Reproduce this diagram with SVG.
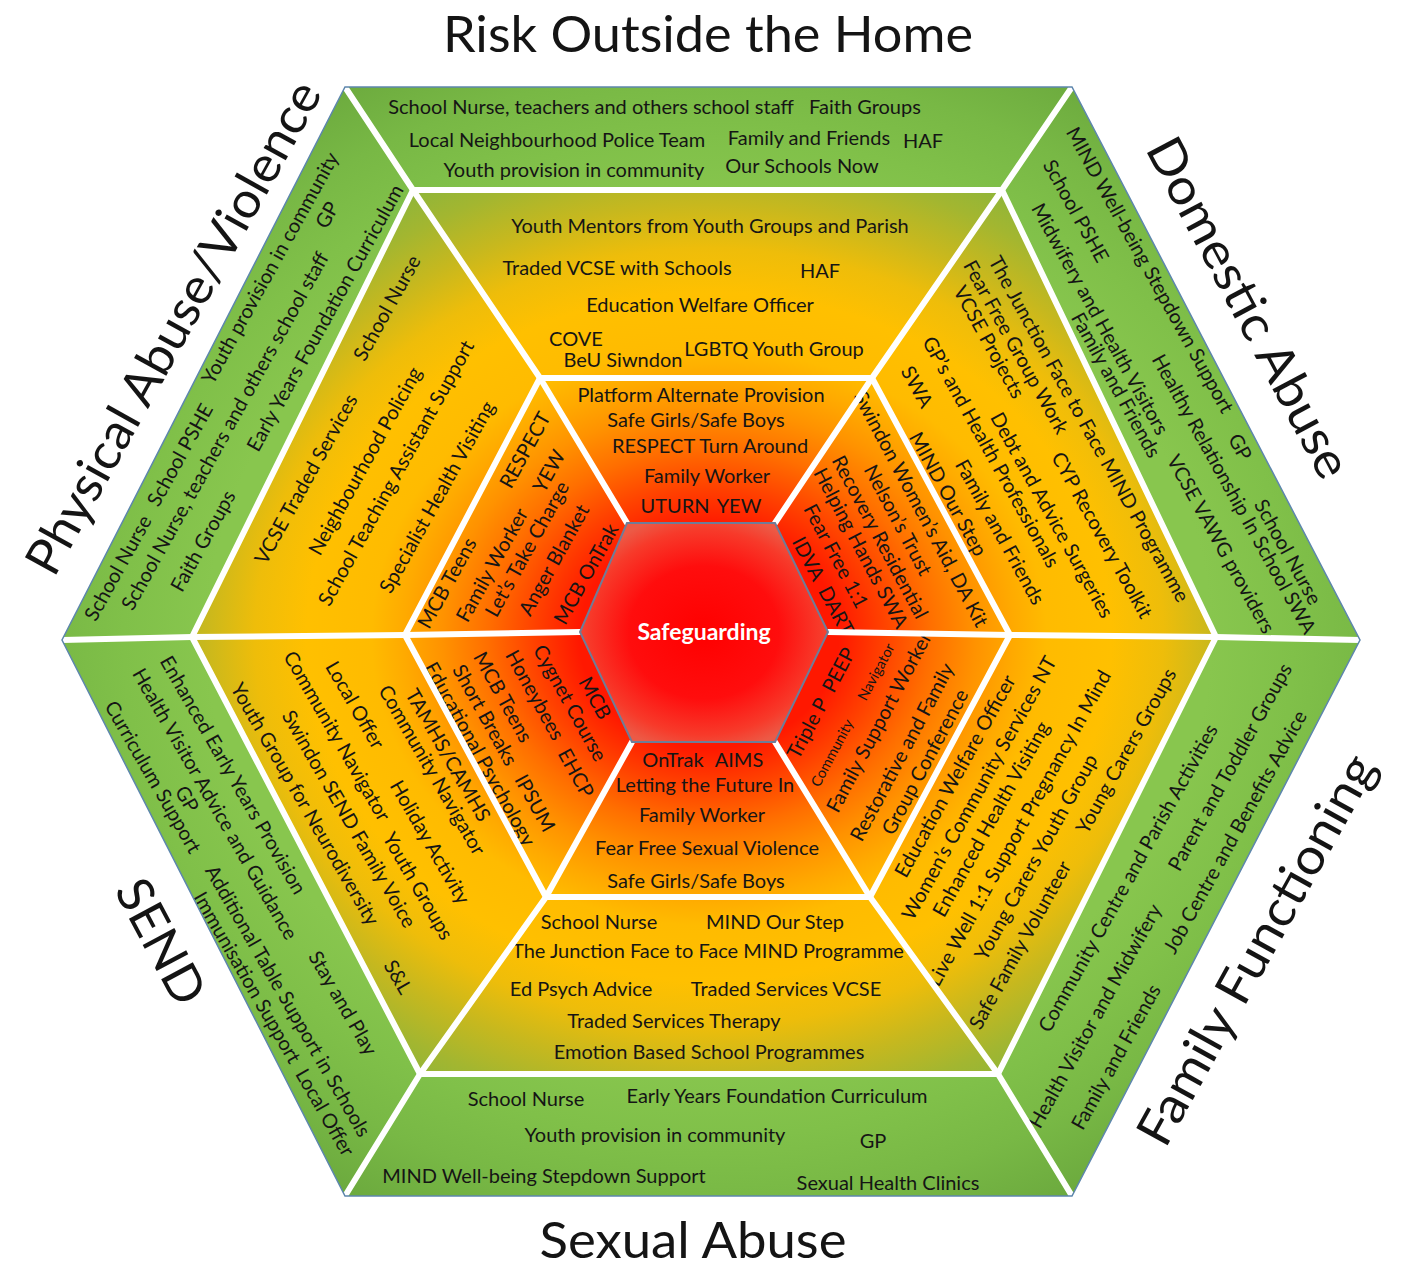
<svg xmlns="http://www.w3.org/2000/svg" width="1401" height="1267" viewBox="0 0 1401 1267">
<defs>
<radialGradient id="gIn" gradientUnits="userSpaceOnUse" cx="709" cy="637" r="649" gradientTransform="translate(709 637) scale(1 0.855) translate(-709 -637)">
<stop offset="0.20" stop-color="#ff1800"/>
<stop offset="0.27" stop-color="#ff4200"/>
<stop offset="0.34" stop-color="#ff6e00"/>
<stop offset="0.41" stop-color="#ff9200"/>
<stop offset="0.47" stop-color="#ffaa00"/>
<stop offset="0.52" stop-color="#ffbb00"/>
<stop offset="0.62" stop-color="#ffc000"/>
<stop offset="0.70" stop-color="#eebd0a"/>
<stop offset="0.78" stop-color="#c7b81e"/>
<stop offset="0.86" stop-color="#a3b630"/>
<stop offset="0.95" stop-color="#86b53e"/>
<stop offset="1" stop-color="#7ab545"/>
</radialGradient>
<radialGradient id="gOut" gradientUnits="userSpaceOnUse" cx="709" cy="637" r="760" gradientTransform="translate(709 637) scale(1 0.855) translate(-709 -637)">
<stop offset="0.66" stop-color="#88c64e"/>
<stop offset="0.77" stop-color="#80c049"/>
<stop offset="0.87" stop-color="#78b845"/>
<stop offset="0.98" stop-color="#6caa3e"/>
</radialGradient>
<radialGradient id="gC" cx="0.5" cy="0.5" r="0.55">
<stop offset="0" stop-color="#ff0000"/>
<stop offset="0.55" stop-color="#ff0d0d"/>
<stop offset="0.85" stop-color="#f73a2a"/>
<stop offset="1" stop-color="#ec5a46"/>
</radialGradient>
<style>
.t{font-family:Lato,"Open Sans","Liberation Sans",sans-serif;font-size:20px;fill:#151515;text-anchor:middle}
.s{font-size:14.5px}
.h{font-family:Lato,"Open Sans","Liberation Sans",sans-serif;font-size:50px;fill:#141414;text-anchor:middle}
.sg{font-family:Lato,"Open Sans","Liberation Sans",sans-serif;font-size:23px;font-weight:bold;fill:#ffffff;text-anchor:middle}
.sep{fill:none;stroke:#ffffff;stroke-width:6;stroke-linejoin:round;stroke-linecap:round}
.out{fill:url(#gOut)}
.in{fill:url(#gIn)}
</style>
</defs>
<rect width="1401" height="1267" fill="#ffffff"/>

<g id="titles">
<text class="h" x="708" y="52" textLength="530" lengthAdjust="spacingAndGlyphs">Risk Outside the Home</text>
<text class="h" x="693" y="1258" textLength="307" lengthAdjust="spacingAndGlyphs">Sexual Abuse</text>
<text class="h" transform="translate(174 328) rotate(-61)" dy="0.33em" textLength="555" lengthAdjust="spacingAndGlyphs">Physical Abuse/Violence</text>
<text class="h" transform="translate(1248 308) rotate(62)" dy="0.33em" textLength="378" lengthAdjust="spacingAndGlyphs">Domestic Abuse</text>
<text class="h" transform="translate(160 942) rotate(62)" dy="0.33em" textLength="135" lengthAdjust="spacingAndGlyphs">SEND</text>
<text class="h" transform="translate(1257 950) rotate(-61)" dy="0.33em" textLength="438" lengthAdjust="spacingAndGlyphs">Family Functioning</text>
</g>

<!-- outer green ring -->
<g id="risk-outer">
<polygon class="out" points="345,87 1072,87 1002,190 413,190"/>
<text class="t" x="591" y="107" dy="0.35em">School Nurse, teachers and others school staff</text>
<text class="t" x="865" y="107" dy="0.35em">Faith Groups</text>
<text class="t" x="557" y="140" dy="0.35em">Local Neighbourhood Police Team</text>
<text class="t" x="809" y="138" dy="0.35em">Family and Friends</text>
<text class="t" x="923" y="141" dy="0.35em">HAF</text>
<text class="t" x="574" y="170" dy="0.35em">Youth provision in community</text>
<text class="t" x="802" y="166" dy="0.35em">Our Schools Now</text>
</g>
<g id="domestic-outer">
<polygon class="out" points="1072,87 1360,640 1216,637 1002,190"/>
<text class="t" transform="translate(1150 270) rotate(61)" dy="0.35em">MIND Well-being Stepdown Support</text>
<text class="t" transform="translate(1240 447) rotate(61)" dy="0.35em">GP</text>
<text class="t" transform="translate(1288 552) rotate(61)" dy="0.35em">School Nurse</text>
<text class="t" transform="translate(1076 211) rotate(61)" dy="0.35em">School PSHE</text>
<text class="t" transform="translate(1234 494) rotate(61)" dy="0.35em">Healthy Relationship In School SWA</text>
<text class="t" transform="translate(1100 319) rotate(61)" dy="0.35em">Midwifery and Health Visitors</text>
<text class="t" transform="translate(1221 544) rotate(61)" dy="0.35em">VCSE VAWG providers</text>
<text class="t" transform="translate(1116 385) rotate(61)" dy="0.35em">Family and Friends</text>
</g>
<g id="family-outer">
<polygon class="out" points="1360,640 1072,1196 998,1074 1216,637"/>
<text class="t" transform="translate(1128 878) rotate(-61)" dy="0.35em">Community Centre and Parish Activities</text>
<text class="t" transform="translate(1230 767) rotate(-61)" dy="0.35em">Parent and Toddler Groups</text>
<text class="t" transform="translate(1095 1016) rotate(-61)" dy="0.35em">Health Visitor and Midwifery</text>
<text class="t" transform="translate(1235 832) rotate(-61)" dy="0.35em">Job Centre and Benefits Advice</text>
<text class="t" transform="translate(1116 1057) rotate(-61)" dy="0.35em">Family and Friends</text>
</g>
<g id="sexual-outer">
<polygon class="out" points="1072,1196 345,1196 420,1074 998,1074"/>
<text class="t" x="526" y="1099" dy="0.35em">School Nurse</text>
<text class="t" x="777" y="1096" dy="0.35em">Early Years Foundation Curriculum</text>
<text class="t" x="655" y="1135" dy="0.35em">Youth provision in community</text>
<text class="t" x="873" y="1141" dy="0.35em">GP</text>
<text class="t" x="544" y="1176" dy="0.35em">MIND Well-being Stepdown Support</text>
<text class="t" x="888" y="1183" dy="0.35em">Sexual Health Clinics</text>
</g>
<g id="send-outer">
<polygon class="out" points="345,1196 62,640 192,637 420,1074"/>
<text class="t" transform="translate(233 775) rotate(60)" dy="0.35em">Enhanced Early Years Provision</text>
<text class="t" transform="translate(215 804) rotate(60)" dy="0.35em">Health Visitor Advice and Guidance</text>
<text class="t" transform="translate(153 777) rotate(60)" dy="0.35em">Curriculum Support</text>
<text class="t" transform="translate(187 799) rotate(60)" dy="0.35em">GP</text>
<text class="t" transform="translate(343 1003) rotate(60)" dy="0.35em">Stay and Play</text>
<text class="t" transform="translate(288 1001) rotate(60)" dy="0.35em">Additional Table Support in Schools</text>
<text class="t" transform="translate(274 1024) rotate(60)" dy="0.35em" xml:space="preserve">Immunisation Support  Local Offer</text>
</g>
<g id="physical-outer">
<polygon class="out" points="62,640 345,87 413,190 192,637"/>
<text class="t" transform="translate(118 568) rotate(-61)" dy="0.35em">School Nurse</text>
<text class="t" transform="translate(180 455) rotate(-61)" dy="0.35em">School PSHE</text>
<text class="t" transform="translate(270 268) rotate(-61)" dy="0.35em">Youth provision in community</text>
<text class="t" transform="translate(225 431) rotate(-61)" dy="0.35em">School Nurse, teachers and others school staff</text>
<text class="t" transform="translate(327 215) rotate(-61)" dy="0.35em">GP</text>
<text class="t" transform="translate(203 541) rotate(-61)" dy="0.35em">Faith Groups</text>
<text class="t" transform="translate(325 318) rotate(-61)" dy="0.35em">Early Years Foundation Curriculum</text>
</g>

<!-- middle yellow ring -->
<g id="risk-middle">
<polygon class="in" points="413,190 1002,190 872,378 540,378"/>
<text class="t" x="710" y="226" dy="0.35em">Youth Mentors from Youth Groups and Parish</text>
<text class="t" x="617" y="268" dy="0.35em">Traded VCSE with Schools</text>
<text class="t" x="820" y="271" dy="0.35em">HAF</text>
<text class="t" x="700" y="305" dy="0.35em">Education Welfare Officer</text>
<text class="t" x="576" y="339" dy="0.35em">COVE</text>
<text class="t" x="623" y="360" dy="0.35em">BeU Siwndon</text>
<text class="t" x="774" y="349" dy="0.35em">LGBTQ Youth Group</text>
</g>
<g id="domestic-middle">
<polygon class="in" points="1002,190 1216,637 1010,635 872,378"/>
<text class="t" transform="translate(1089 429) rotate(61)" dy="0.35em">The Junction Face to Face MIND Programme</text>
<text class="t" transform="translate(1016 347) rotate(61)" dy="0.35em">Fear Free Group Work</text>
<text class="t" transform="translate(1102 535) rotate(61)" dy="0.35em">CYP Recovery Toolkit</text>
<text class="t" transform="translate(989 342) rotate(61)" dy="0.35em">VCSE Projects</text>
<text class="t" transform="translate(1052 515) rotate(61)" dy="0.35em">Debt and Advice Surgeries</text>
<text class="t" transform="translate(991 452) rotate(61)" dy="0.35em">GP’s and Health Professionals</text>
<text class="t" transform="translate(917 387) rotate(61)" dy="0.35em">SWA</text>
<text class="t" transform="translate(1000 532) rotate(61)" dy="0.35em">Family and Friends</text>
<text class="t" transform="translate(948 494) rotate(61)" dy="0.35em">MIND Our Step</text>
</g>
<g id="family-middle">
<polygon class="in" points="1216,637 998,1074 870,897 1010,635"/>
<text class="t" transform="translate(955 776) rotate(-61)" dy="0.35em">Education Welfare Officer</text>
<text class="t" transform="translate(979 788) rotate(-61)" dy="0.35em">Women’s Community Services NT</text>
<text class="t" transform="translate(991 819) rotate(-61)" dy="0.35em">Enhanced Health Visiting</text>
<text class="t" transform="translate(1019 828) rotate(-61)" dy="0.35em">Live Well 1:1 Support Pregnancy In Mind</text>
<text class="t" transform="translate(1036 857) rotate(-61)" dy="0.35em">Young Carers Youth Group</text>
<text class="t" transform="translate(1126 751) rotate(-61)" dy="0.35em">Young Carers Groups</text>
<text class="t" transform="translate(1020 945) rotate(-61)" dy="0.35em">Safe Family Volunteer</text>
</g>
<g id="sexual-middle">
<polygon class="in" points="998,1074 420,1074 546,897 870,897"/>
<text class="t" x="599" y="922" dy="0.35em">School Nurse</text>
<text class="t" x="775" y="922" dy="0.35em">MIND Our Step</text>
<text class="t" x="708" y="951" dy="0.35em">The Junction Face to Face MIND Programme</text>
<text class="t" x="581" y="989" dy="0.35em">Ed Psych Advice</text>
<text class="t" x="786" y="989" dy="0.35em">Traded Services VCSE</text>
<text class="t" x="674" y="1021" dy="0.35em">Traded Services Therapy</text>
<text class="t" x="709" y="1052" dy="0.35em">Emotion Based School Programmes</text>
</g>
<g id="send-middle">
<polygon class="in" points="420,1074 192,637 405,635 546,897"/>
<text class="t" transform="translate(355 705) rotate(60)" dy="0.35em">Local Offer</text>
<text class="t" transform="translate(337 736) rotate(60)" dy="0.35em">Community Navigator</text>
<text class="t" transform="translate(349 819) rotate(60)" dy="0.35em">Swindon SEND Family Voice</text>
<text class="t" transform="translate(305 804) rotate(60)" dy="0.35em">Youth Group for Neurodiversity</text>
<text class="t" transform="translate(432 770) rotate(60)" dy="0.35em">Community Navigator</text>
<text class="t" transform="translate(448 755) rotate(60)" dy="0.35em">TAMHS/CAMHS</text>
<text class="t" transform="translate(430 842) rotate(60)" dy="0.35em">Holiday Activity</text>
<text class="t" transform="translate(418 886) rotate(60)" dy="0.35em">Youth Groups</text>
<text class="t" transform="translate(398 977) rotate(60)" dy="0.35em">S&amp;L</text>
</g>
<g id="physical-middle">
<polygon class="in" points="192,637 413,190 540,378 405,635"/>
<text class="t" transform="translate(387 308) rotate(-61)" dy="0.35em">School Nurse</text>
<text class="t" transform="translate(306 479) rotate(-61)" dy="0.35em">VCSE Traded Services</text>
<text class="t" transform="translate(365 461) rotate(-61)" dy="0.35em">Neighbourhood Policing</text>
<text class="t" transform="translate(396 473) rotate(-61)" dy="0.35em">School Teaching Assistant Support</text>
<text class="t" transform="translate(437 497) rotate(-61)" dy="0.35em">Specialist Health Visiting</text>
</g>

<!-- inner orange ring -->
<g id="risk-inner">
<polygon class="in" points="540,378 872,378 775,523 627,523"/>
<text class="t" x="701" y="395" dy="0.35em">Platform Alternate Provision</text>
<text class="t" x="696" y="420" dy="0.35em">Safe Girls/Safe Boys</text>
<text class="t" x="710" y="446" dy="0.35em">RESPECT Turn Around</text>
<text class="t" x="707" y="476" dy="0.35em">Family Worker</text>
<text class="t" x="675" y="506" dy="0.35em">UTURN</text>
<text class="t" x="739" y="506" dy="0.35em">YEW</text>
</g>
<g id="domestic-inner">
<polygon class="in" points="872,378 1010,635 828,632 775,523"/>
<text class="t" transform="translate(921 509) rotate(62)" dy="0.35em">Swindon Women’s Aid, DA Kit</text>
<text class="t" transform="translate(898 520) rotate(62)" dy="0.35em">Nelson’s Trust</text>
<text class="t" transform="translate(880 537) rotate(62)" dy="0.35em">Recovery Residential</text>
<text class="t" transform="translate(861 548) rotate(62)" dy="0.35em">Helping Hands SWA</text>
<text class="t" transform="translate(836 556) rotate(62)" dy="0.35em">Fear Free 1:1</text>
<text class="t" transform="translate(823 586) rotate(62)" dy="0.35em" xml:space="preserve">IDVA  DART</text>
</g>
<g id="family-inner">
<polygon class="in" points="1010,635 870,897 775,742 828,632"/>
<text class="t" transform="translate(821 703) rotate(-62)" dy="0.35em" xml:space="preserve">Triple P  PEEP</text>
<text class="t s" transform="translate(832 753) rotate(-62)" dy="0.35em">Community</text>
<text class="t s" transform="translate(876 672) rotate(-62)" dy="0.35em">Navigator</text>
<text class="t" transform="translate(879 722) rotate(-62)" dy="0.35em">Family Support Worker</text>
<text class="t" transform="translate(902 752) rotate(-62)" dy="0.35em">Restorative and Family</text>
<text class="t" transform="translate(925 762) rotate(-62)" dy="0.35em">Group Conference</text>
</g>
<g id="sexual-inner">
<polygon class="in" points="870,897 546,897 632,742 775,742"/>
<text class="t" x="673" y="760" dy="0.35em">OnTrak</text>
<text class="t" x="739" y="760" dy="0.35em">AIMS</text>
<text class="t" x="705" y="785" dy="0.35em">Letting the Future In</text>
<text class="t" x="702" y="815" dy="0.35em">Family Worker</text>
<text class="t" x="707" y="848" dy="0.35em">Fear Free Sexual Violence</text>
<text class="t" x="696" y="881" dy="0.35em">Safe Girls/Safe Boys</text>
</g>
<g id="send-inner">
<polygon class="in" points="546,897 405,635 580,632 632,742"/>
<text class="t" transform="translate(595 698) rotate(61)" dy="0.35em">MCB</text>
<text class="t" transform="translate(570 703) rotate(61)" dy="0.35em">Cygnet Course</text>
<text class="t" transform="translate(535 695) rotate(61)" dy="0.35em">Honeybees</text>
<text class="t" transform="translate(576 773) rotate(61)" dy="0.35em">EHCP</text>
<text class="t" transform="translate(503 697) rotate(61)" dy="0.35em">MCB Teens</text>
<text class="t" transform="translate(485 715) rotate(61)" dy="0.35em">Short Breaks</text>
<text class="t" transform="translate(535 803) rotate(61)" dy="0.35em">IPSUM</text>
<text class="t" transform="translate(480 754) rotate(61)" dy="0.35em">Educational Psychology</text>
</g>
<g id="physical-inner">
<polygon class="in" points="405,635 540,378 627,523 580,632"/>
<text class="t" transform="translate(525 450) rotate(-61)" dy="0.35em">RESPECT</text>
<text class="t" transform="translate(549 471) rotate(-61)" dy="0.35em">YEW</text>
<text class="t" transform="translate(447 583) rotate(-61)" dy="0.35em">MCB Teens</text>
<text class="t" transform="translate(492 565) rotate(-61)" dy="0.35em">Family Worker</text>
<text class="t" transform="translate(527 549) rotate(-61)" dy="0.35em">Let’s Take Charge</text>
<text class="t" transform="translate(554 560) rotate(-61)" dy="0.35em">Anger Blanket</text>
<text class="t" transform="translate(586 574) rotate(-61)" dy="0.35em">MCB OnTrak</text>
</g>

<g id="connectors">
<polygon class="sep" points="413,190 1002,190 1216,637 998,1074 420,1074 192,637"/>
<polygon class="sep" points="540,378 872,378 1010,635 870,897 546,897 405,635"/>
<polyline class="sep" points="345,87 413,190 540,378 627,523"/>
<polyline class="sep" points="1072,87 1002,190 872,378 775,523"/>
<polyline class="sep" points="1360,640 1216,637 1010,635 828,632"/>
<polyline class="sep" points="1072,1196 998,1074 870,897 775,742"/>
<polyline class="sep" points="345,1196 420,1074 546,897 632,742"/>
<polyline class="sep" points="62,640 192,637 405,635 580,632"/>
<polygon points="345,87 1072,87 1360,640 1072,1196 345,1196 62,640" fill="none" stroke="#5d86ad" stroke-width="1.5"/>
</g>

<g id="safeguarding">
<polygon points="627,523 775,523 828,632 775,742 632,742 580,632" fill="url(#gC)" stroke="#6f7c98" stroke-width="2"/>
<text class="sg" x="704" y="632" dy="0.35em">Safeguarding</text>
</g>
</svg>
